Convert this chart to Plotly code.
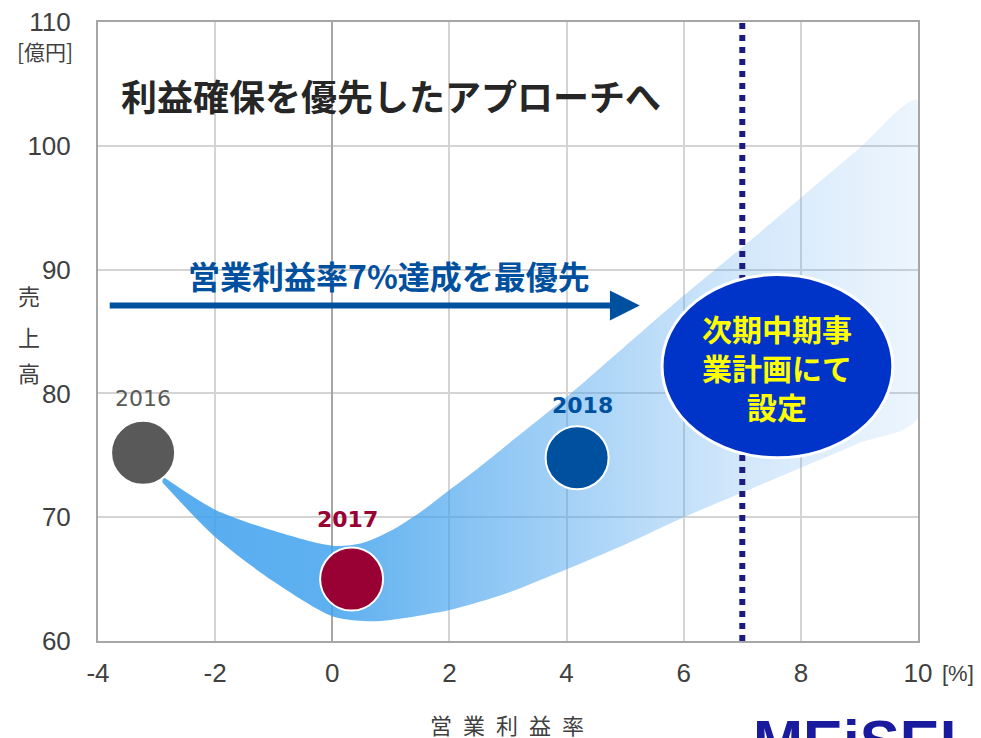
import plotly.graph_objects as go

# ---- data ----
years = ["2016", "2017", "2018"]
op_margin = [-3.23, 0.33, 4.18]          # 営業利益率 [%]
sales = [75.2, 65.0, 74.8]               # 売上高 [億円]
year_colors = ["#595959", "#990033", "#0050a0"]

band_upper_x = [-2.9, -2, -1, 0, 0.5, 1, 1.5, 2, 2.5, 3, 4, 5, 6, 7, 8, 9, 10]
band_upper_y = [73.3, 70.6, 68.9, 67.7, 67.9, 68.9, 70.4, 72.2, 74.0, 75.9, 79.7, 83.8, 87.9, 91.8, 95.8, 99.8, 103.7]
band_lower_x = [10, 9, 8, 7, 6, 5, 4, 3, 2, 1, 0.6, 0, -1, -2, -2.9]
band_lower_y = [78.0, 76.0, 74.0, 72.0, 70.0, 67.8, 65.8, 63.9, 62.5, 61.7, 61.6, 62.0, 64.8, 68.4, 72.8]

x_ticks = [-4, -2, 0, 2, 4, 6, 8, 10]
x_tick_labels = ["-4", "-2", "0", "2", "4", "6", "8", "10"]
y_ticks = [60, 70, 80, 90, 100, 110]
y_tick_labels = ["60", "70", "80", "90", "100", "110"]

target_margin = 7
arrow_y = 87.1
arrow_x_start = -3.8
arrow_x_end = 5.25

CJK = "Noto Sans CJK JP"
LAT = "Liberation Sans, Arial"

fig = go.Figure()

# band
fig.add_trace(go.Scatter(
    x=band_upper_x + band_lower_x,
    y=band_upper_y + band_lower_y,
    mode="lines", fill="toself",
    line=dict(width=0, shape="spline", smoothing=0.8),
    fillgradient=dict(type="horizontal", colorscale=[
        [0.0, "rgba(61,160,237,0.86)"],
        [0.22, "rgba(61,160,237,0.83)"],
        [0.5, "rgba(70,162,237,0.52)"],
        [0.75, "rgba(90,168,240,0.27)"],
        [1.0, "rgba(100,170,240,0.10)"],
    ]),
    hoverinfo="skip", showlegend=False,
))

# year points
fig.add_trace(go.Scatter(
    x=op_margin, y=sales, mode="markers",
    marker=dict(size=[64, 63, 63], color=year_colors, opacity=1,
                line=dict(color="white", width=2)),
    showlegend=False,
))

shapes = [
    dict(type="line", xref="x", yref="y", x0=target_margin, x1=target_margin, y0=60, y1=110,
         line=dict(color="#1c1c80", width=6, dash="6px,6px"), layer="above"),
    dict(type="circle", xref="x", yref="y", x0=5.63, x1=9.57, y0=74.8, y1=89.6,
         fillcolor="#0033c8", line=dict(color="white", width=3), layer="above"),
    dict(type="line", xref="x", yref="y", x0=arrow_x_start, x1=arrow_x_end - 0.45, y0=arrow_y, y1=arrow_y,
         line=dict(color="#0050a0", width=6), layer="above"),
    dict(type="path", xref="x", yref="y",
         path=f"M {arrow_x_end-0.51},{arrow_y+1.21} L {arrow_x_end},{arrow_y} L {arrow_x_end-0.51},{arrow_y-1.21} Z",
         fillcolor="#0050a0", line=dict(width=0), layer="above"),
]


def note(text, x, y, size, color, family=CJK, xref="paper", yref="paper", **kw):
    return dict(text=text, x=x, y=y, xref=xref, yref=yref, showarrow=False,
                xanchor="center", yanchor="middle",
                font=dict(family=family, size=size, color=color), **kw)


annotations = [
    note("<b>利益確保を優先したアプローチへ</b>", 0.357, 0.882, 36, "#262626"),
    note("<b>営業利益率7%達成を最優先</b>", 0.355, 0.592, 32, "#0050a0"),
    note("<b>次期中期事<br>業計画にて<br>設定</b>", 0.828, 0.443, 30, "#ffff00"),
    note(years[0], op_margin[0], sales[0], 22, year_colors[0], family="DejaVu Sans",
         xref="x", yref="y", yshift=54),
    note(f"<b>{years[1]}</b>", op_margin[1], sales[1], 22, year_colors[1], family="DejaVu Sans",
         xref="x", yref="y", yshift=60, xshift=-4),
    note(f"<b>{years[2]}</b>", op_margin[2], sales[2], 22, year_colors[2], family="DejaVu Sans",
         xref="x", yref="y", yshift=52, xshift=5),
    note("[億円]", -0.0646, 0.953, 21, "#404040"),
    note("[%]", 1.0488, -0.0517, 22, "#404040", family=LAT),
    note("営\u2002業\u2002利\u2002益\u2002率", 0.499, -0.134, 22, "#404040"),
    note("<b>MEiSEI</b>", 0.922, -0.162, 60, "#1a1a9e", family=LAT),
]
for ch, py in zip("売上高", [295, 336, 372]):
    annotations.append(note(ch, -0.084, (641 - py) / 619, 22, "#404040"))

# page body has an 8px margin, so the figure is shrunk by 8px to fit the 981x738 window
fig.update_layout(
    width=973, height=730,
    margin=dict(l=90, r=63, t=14, b=97, autoexpand=False),
    paper_bgcolor="white", plot_bgcolor="white",
    shapes=shapes, annotations=annotations,
    showlegend=False,
    xaxis=dict(range=[-4, 10], tickvals=x_ticks, ticktext=x_tick_labels, automargin=False,
               showgrid=True, gridcolor="#d4d4d4", gridwidth=1.5,
               zeroline=True, zerolinecolor="#a6a6a6", zerolinewidth=2,
               showline=True, mirror=True, linecolor="#a6a6a6", linewidth=2,
               ticks="", ticklabelstandoff=8, ticklabeloverflow="allow",
               tickfont=dict(family=LAT, size=26, color="#404040")),
    yaxis=dict(range=[60, 110], tickvals=y_ticks, ticktext=y_tick_labels, automargin=False,
               showgrid=True, gridcolor="#d4d4d4", gridwidth=1.5, zeroline=False,
               showline=True, mirror=True, linecolor="#a6a6a6", linewidth=2,
               ticks="", ticklabelstandoff=20, ticklabeloverflow="allow",
               tickfont=dict(family=LAT, size=26, color="#404040")),
)

fig.write_html("out.html")
